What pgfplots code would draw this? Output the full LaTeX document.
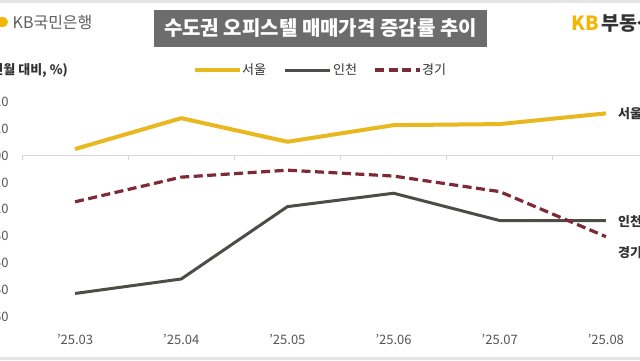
\documentclass[border=0pt]{standalone}
\usepackage{fontspec}
\setmainfont{Noto Sans CJK KR}
\usepackage{pgfplots}
\pgfplotsset{compat=1.18}
\definecolor{seoul}{HTML}{E9B81E}
\definecolor{incheon}{HTML}{4D4D48}
\definecolor{gyeonggi}{HTML}{7E2A36}
\definecolor{titlebox}{HTML}{6C6C6C}
\definecolor{ticktxt}{HTML}{555555}
\definecolor{darktxt}{HTML}{333333}
\definecolor{kbyellow}{HTML}{F2B705}
\definecolor{kbgrey}{HTML}{5E5E5E}
\definecolor{zeroline}{HTML}{D6D6D6}
\begin{document}
\begin{tikzpicture}[x=1pt,y=1pt]
\useasboundingbox (0,0) rectangle (640,360);
\fill[white] (0,0) rectangle (640,360);
\fill[black!10] (0,357) rectangle (640,360);
\fill[black!10] (0,0) rectangle (640,3);
% logos and title
\fill[kbyellow] (2,338) ellipse (6 and 5);
\node[anchor=west, inner sep=0, text=kbgrey, font=\fontsize{16}{18}\selectfont] at (12.5,337) {KB국민은행};
\fill[titlebox] (154,313) rectangle (487,350);
\node[text=white, inner sep=0, font=\fontsize{20}{22}\selectfont\bfseries] at (320.5,331.5) {수도권 오피스텔 매매가격 증감률 추이};
\node[anchor=west, inner sep=0, font=\fontsize{19.5}{21}\selectfont\bfseries] at (571,337) {\textcolor{kbyellow}{KB}\,\textcolor{darktxt}{부동산}};
\node[anchor=east, inner sep=0, text=darktxt, font=\fontsize{13}{15}\selectfont\bfseries] at (68,290) {(전월 대비, \%)};
% legend
\draw[seoul, line width=4pt] (195,290) -- (240,290);
\node[anchor=west, inner sep=0, text=darktxt, font=\fontsize{13}{15}\selectfont] at (242,290) {서울};
\draw[incheon, line width=3pt] (285,290) -- (330,290);
\node[anchor=west, inner sep=0, text=darktxt, font=\fontsize{13}{15}\selectfont] at (333,290) {인천};
\draw[gyeonggi, line width=3.2pt, dash pattern=on 9pt off 4.5pt] (375,290) -- (420,290);
\node[anchor=west, inner sep=0, text=darktxt, font=\fontsize{13}{15}\selectfont] at (422,290) {경기};
\begin{axis}[
  at={(22pt,43.5pt)}, anchor=south west,
  scale only axis, width=637pt, height=214.4pt,
  xmin=-0.5, xmax=5.5, ymin=-0.6, ymax=0.2,
  clip=false,
  axis line style={draw=none},
  major tick length=0pt,
  xtick={0,1,2,3,4,5},
  xticklabels={’25.03,’25.04,’25.05,’25.06,’25.07,’25.08},
  ytick={-0.6,-0.5,-0.4,-0.3,-0.2,-0.1,0,0.1,0.2},
  yticklabel style={/pgf/number format/.cd, fixed, fixed zerofill, precision=2, assume math mode=true, /tikz/.cd, text=ticktxt, font=\fontsize{13}{15}\selectfont, xshift=-10pt},
  xticklabel style={text=ticktxt, font=\fontsize{13}{15}\selectfont, yshift=-14pt},
]
\draw[zeroline, line width=1pt] (axis cs:-0.5,0) -- (axis cs:5.5,0);
\draw[zeroline, line width=1pt] (axis cs:-0.5,0) -- ++(0pt,-4pt);
\draw[zeroline, line width=1pt] (axis cs:0.5,0) -- ++(0pt,-4pt);
\draw[zeroline, line width=1pt] (axis cs:1.5,0) -- ++(0pt,-4pt);
\draw[zeroline, line width=1pt] (axis cs:2.5,0) -- ++(0pt,-4pt);
\draw[zeroline, line width=1pt] (axis cs:3.5,0) -- ++(0pt,-4pt);
\draw[zeroline, line width=1pt] (axis cs:4.5,0) -- ++(0pt,-4pt);
\addplot[incheon, line width=3pt, line join=round] coordinates {(0,-0.514) (1,-0.460) (2,-0.190) (3,-0.140) (4,-0.242) (5,-0.242)};
\addplot[gyeonggi, line width=3.2pt, dash pattern=on 9pt off 4.5pt] coordinates {(0,-0.172) (1,-0.080) (2,-0.054) (3,-0.076) (4,-0.134) (5,-0.302)};
\addplot[seoul, line width=4pt, line join=round] coordinates {(0,0.025) (1,0.140) (2,0.052) (3,0.114) (4,0.118) (5,0.158)};
\end{axis}
\node[anchor=west, inner sep=0, text=darktxt, font=\fontsize{13}{15}\selectfont\bfseries] at (618,246.7) {서울};
\node[anchor=west, inner sep=0, text=darktxt, font=\fontsize{13}{15}\selectfont\bfseries] at (618,138.3) {인천};
\node[anchor=west, inner sep=0, text=darktxt, font=\fontsize{13}{15}\selectfont\bfseries] at (618,107) {경기};
\end{tikzpicture}
\end{document}
